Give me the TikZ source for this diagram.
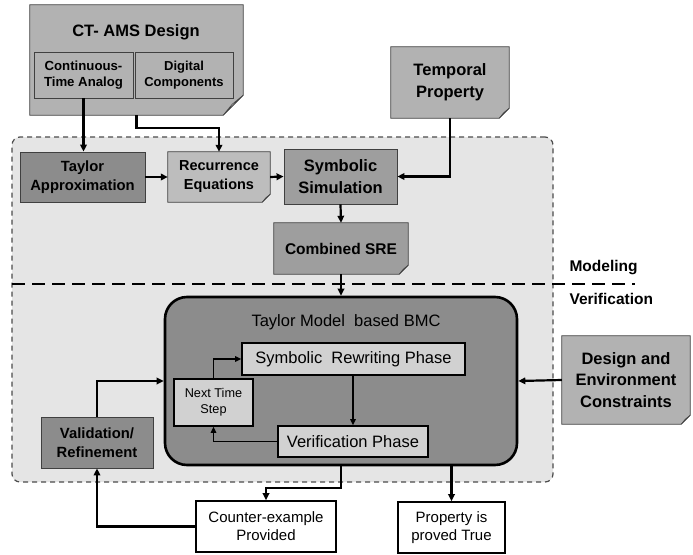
\documentclass[tikz,border=0pt]{standalone}
\usepackage{fontspec}
\setmainfont{Liberation Sans}
\usetikzlibrary{arrows.meta,calc}
\pgfdeclarelayer{back}
\pgfdeclarelayer{mid}
\pgfsetlayers{back,mid,main}

\definecolor{regionfill}{gray}{0.90}
\definecolor{regionline}{gray}{0.30}
\definecolor{boxline}{gray}{0.25}
\definecolor{designfill}{gray}{0.70}
\definecolor{darkfill}{gray}{0.55}
\definecolor{midfill}{gray}{0.62}
\definecolor{lightfill}{gray}{0.74}
\definecolor{bmcfill}{gray}{0.55}
\definecolor{phasefill}{gray}{0.82}
\definecolor{foldfill}{gray}{0.86}

% font size shortcut: size and baseline skip in pt
\newcommand\fsz[2]{\fontsize{#1pt}{#2pt}\selectfont}

% box with a curled bottom-right corner, drawn behind the named node
% #1 node name, #2 fill colour, #3 corner size (pt)
\newcommand\dogearbox[3]{%
  \begin{pgfonlayer}{mid}
    \path[fill=#2, draw=boxline, line width=0.8pt]
      (#1.north west) -- (#1.north east) -- ([yshift=#3pt]#1.south east)
      -- ([xshift=-#3pt]#1.south east) -- (#1.south west) -- cycle;
    \path[fill=foldfill, draw=boxline, line width=0.6pt]
      ([yshift=#3pt]#1.south east) -- ([xshift=-#3pt]#1.south east)
      -- ([xshift=-0.55*#3pt,yshift=0.55*#3pt]#1.south east) -- cycle;
  \end{pgfonlayer}}

\tikzset{
  arr/.style={line width=2.2pt, -{Triangle[length=7pt,width=6.5pt]}},
  thinarr/.style={line width=1.6pt, -{Triangle[length=6pt,width=5.5pt]}},
  solidbox/.style={draw=boxline, line width=0.8pt, align=center, inner sep=0pt},
  earbox/.style={align=center, inner sep=0pt},
  plainbox/.style={draw=black, line width=1.6pt, fill=white, align=center, inner sep=0pt},
  phasebox/.style={draw=black, line width=1.6pt, fill=phasefill, align=center, inner sep=0pt},
  regionbox/.style={draw=regionline, fill=regionfill, line width=1.2pt,
    dash pattern=on 5pt off 4pt, rounded corners=8pt, inner sep=0pt},
  divider/.style={draw=black, line width=2pt, dash pattern=on 13pt off 7pt},
}

\begin{document}
\begin{tikzpicture}[x=1pt,y=-1pt]
\useasboundingbox (0,0) rectangle (693,554);

% modeling / verification area
\begin{pgfonlayer}{back}
  \node[regionbox, minimum width=541pt, minimum height=345pt] (region) at (282.5,309.5) {};
\end{pgfonlayer}
\coordinate (divL) at (12,284);
\coordinate (divR) at (635,284);
\draw[divider] (divL) -- (divR);
\node[anchor=west, font=\bfseries\fsz{15.5}{18}] (modlabel) at (566,268) {Modeling};
\node[anchor=west, font=\bfseries\fsz{15.5}{18}] (verlabel) at (566,299) {Verification};

% design inputs
\node[earbox, minimum width=213pt, minimum height=110pt] (ctams) at (136.5,60) {};
\dogearbox{ctams}{designfill}{20}
\node[font=\bfseries\fsz{16.5}{19}] (ctamstitle) at (136,32) {CT- AMS Design};
\node[solidbox, fill=designfill, font=\bfseries\fsz{13.2}{15.5},
      minimum width=99pt, minimum height=46pt] (cta) at (83.5,75) {Continuous-\\Time Analog};
\node[solidbox, fill=designfill, font=\bfseries\fsz{13}{15.5},
      minimum width=98pt, minimum height=46pt] (dig) at (184,75) {Digital\\Components};

\node[earbox, font=\bfseries\fsz{16.5}{22}, minimum width=118pt, minimum height=71pt]
  (temporal) at (450,82.5) {Temporal\\Property};
\dogearbox{temporal}{designfill}{10}

% modeling steps
\node[solidbox, fill=darkfill, font=\bfseries\fsz{14.8}{19},
      minimum width=125pt, minimum height=50pt] (taylor) at (82.5,177) {Taylor\\Approximation};
\node[earbox, font=\bfseries\fsz{14.5}{19}, minimum width=102pt, minimum height=50pt]
  (recur) at (219,177) {Recurrence\\Equations};
\dogearbox{recur}{lightfill}{8}
\node[solidbox, fill=midfill, font=\bfseries\fsz{16.5}{21.5},
      minimum width=113pt, minimum height=55pt] (symsim) at (340.5,176.5) {Symbolic\\Simulation};
\node[earbox, font=\bfseries\fsz{15.5}{18}, minimum width=134pt, minimum height=51pt]
  (combined) at (341,248.5) {Combined SRE};
\dogearbox{combined}{midfill}{9}

% verification engine
\node[draw=black, line width=2.6pt, fill=bmcfill, rounded corners=22pt,
      minimum width=352pt, minimum height=168pt] (bmc) at (341,381) {};
\node[font=\fsz{16.5}{19}] (bmctitle) at (346,322) {Taylor Model\ \ based BMC};
\node[phasebox, font=\fsz{16.5}{19}, minimum width=223pt, minimum height=32pt]
  (srp) at (353.5,359) {Symbolic\ \ Rewriting Phase};
\node[phasebox, font=\fsz{12.7}{16}, minimum width=79pt, minimum height=47pt]
  (nts) at (213.5,402.5) {Next Time\\Step};
\node[phasebox, font=\fsz{16.5}{19}, minimum width=150pt, minimum height=31pt]
  (vp) at (353,441.5) {Verification Phase};

\node[solidbox, fill=darkfill, font=\bfseries\fsz{14.8}{19},
      minimum width=112pt, minimum height=51pt] (val) at (97,442.5) {Validation/\\Refinement};

\node[earbox, font=\bfseries\fsz{16.5}{21.5}, minimum width=128pt, minimum height=88pt]
  (design) at (626,380) {Design and\\Environment\\Constraints};
\dogearbox{design}{designfill}{9}

% outcomes
\node[plainbox, font=\fsz{15}{18}, minimum width=140pt, minimum height=51pt]
  (counter) at (266,526.5) {Counter-example\\Provided};
\node[plainbox, font=\fsz{15}{18}, minimum width=107pt, minimum height=51pt]
  (property) at (451.5,527.5) {Property is\\proved True};

% connectors
\draw[arr] (cta.south) -- (cta.south |- taylor.north);
\draw[arr] (ctams.south) -- ++(0,13) -| (recur.north);
\draw[arr] (temporal.south) |- (symsim.east);
\draw[arr] (taylor.east) -- (recur.west);
\draw[arr] (recur.east) -- (symsim.west);
\draw[arr] (symsim.south) -- (combined.north);
\draw[arr] (combined.south) -- (bmc.north);
\draw[thinarr] (srp.south -| vp.north) -- (vp.north);
\draw[thinarr] (vp.west) -| (nts.south);
\draw[thinarr] (nts.north) |- (srp.west);
\draw[arr] (val.north) |- (bmc.west);
\draw[arr] (design.west) -- (bmc.east);
\draw[arr] (bmc.south) -- ++(0,22) -| (counter.north);
\draw[arr] (property.north |- bmc.south) -- (property.north);
\draw[arr] (counter.west) -| (val.south);
\end{tikzpicture}
\end{document}
